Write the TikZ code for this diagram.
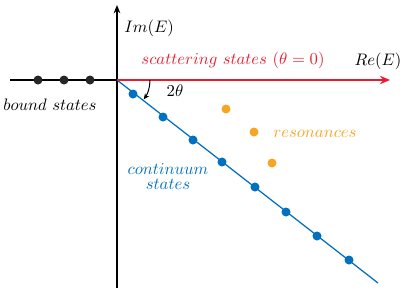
\documentclass[tikz,border=0pt]{standalone}
\usetikzlibrary{arrows.meta}
\definecolor{cred}{RGB}{232,28,46}
\definecolor{cblue}{RGB}{0,112,192}
\definecolor{corange}{RGB}{246,166,35}
\begin{document}
\begin{tikzpicture}[x=0.6pt,y=-0.6pt,
  dot/.style={circle,inner sep=0pt,minimum size=5.4pt},
  bdot/.style={dot,fill=black!85},
  cdot/.style={dot,fill=cblue},
  rdot/.style={dot,fill=corange},
  lbl/.style={inner sep=0pt}]
\useasboundingbox (0,0) rectangle (402,291);
% axes
\coordinate (O) at (117,80);
\coordinate (Ybot) at (117,288);
\coordinate (Ytop) at (117,5);
\coordinate (Xl) at (10,80);
\coordinate (Xr) at (390,80);
\coordinate (Lend) at (378,283);
\draw[line width=0.85pt,-{Stealth[length=5pt,width=4pt]}] (Ybot) -- (Ytop);
\draw[line width=0.85pt] (Xl) -- (O);
\draw[cblue,line width=0.75pt] (O) -- (Lend);
\draw[cred,line width=1.6pt,-{Stealth[length=6pt,width=5pt]}] (O) -- (Xr);
% angle arc
\draw[line width=0.6pt,-{Stealth[length=3.5pt,width=3pt]}] (150,80) arc[start angle=0,end angle=36,radius=33];
% dots
\foreach \x [count=\i] in {38,64,90} \node[bdot] (b\i) at (\x,80) {};
\foreach \x/\y [count=\i] in {133/94,163/117,193/140,222/162,255/187,286/212,317/236,349/260} \node[cdot] (c\i) at (\x,\y) {};
\foreach \x/\y [count=\i] in {226/109,254/132,272/163} \node[rdot] (r\i) at (\x,\y) {};
% labels
\node[lbl] (im) at (149,28) {$Im(E)$};
\node[lbl] (re) at (378,61) {$Re(E)$};
\node[lbl,text=cred] (sc) at (233,60) {$scattering\ states\ (\theta=0)$};
\node[lbl] (th) at (175,91) {$2\theta$};
\node[lbl] (bs) at (50,105) {$bound\ states$};
\node[lbl,text=corange] (res) at (315,134) {$resonances$};
\node[lbl,text=cblue,align=center] (cs) at (168,176) {$continuum$\\[-3pt]$states$};
\end{tikzpicture}
\end{document}
